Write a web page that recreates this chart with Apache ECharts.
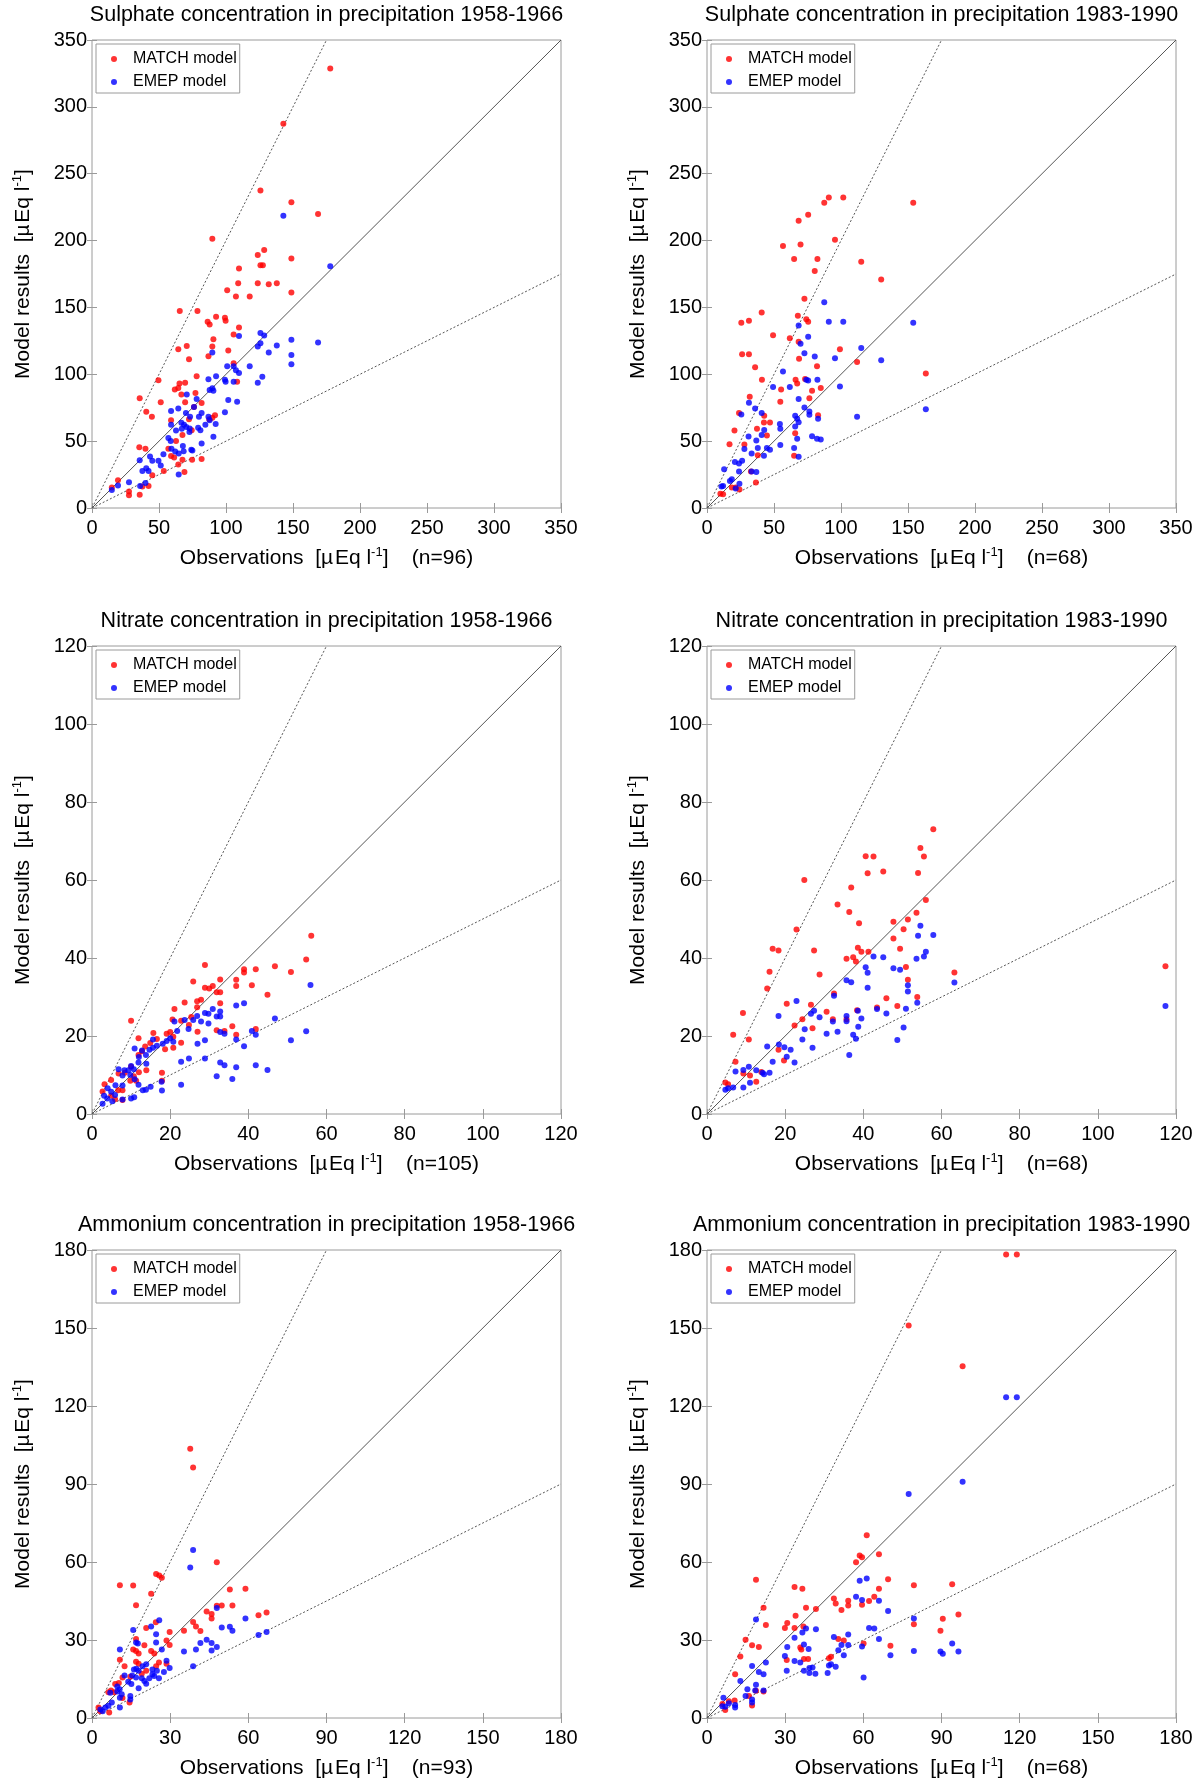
<!DOCTYPE html>
<html>
<head>
<meta charset="utf-8">
<title>Model results vs observations</title>
<script src="https://cdn.jsdelivr.net/npm/echarts@6/dist/echarts.min.js"></script>
<style>
    html, body { margin: 0; padding: 0; background: #fff; }
    #main { width: 1200px; height: 1786px; }
</style>
</head>
<body>
<div id="main"></div>
<script>

// Sulphate 1958-1966
var so4Early_match = [[177.8,328.7],[142.8,287.4],[125.7,237.5],[148.8,228.7],[168.7,219.9],[89.8,201.4],[123.7,189.3],[128.5,192.9],[125.7,181.6],[127.5,181.6],[148.8,186.6],[109.7,179.1],[100.9,162.9],[107.4,158.2],[109.1,168.1],[117.7,158.2],[123.7,168.1],[131.9,167.3],[137.9,168.1],[148.8,161.2],[65.5,147.4],[78.7,147.4],[92.6,143.0],[86.3,139.2],[87.8,137.2],[99.2,142.2],[99.7,140.0],[109.7,135.0],[105.7,129.8],[90.6,126.2],[89.8,120.7],[70.7,121.2],[64.4,118.8],[101.7,117.7],[72.4,111.3],[86.9,113.5],[105.7,108.3],[78.1,98.6],[49.6,95.6],[65.3,93.1],[69.5,93.7],[61.8,88.7],[64.4,89.8],[66.7,84.9],[77.2,86.0],[108.3,94.5],[35.6,82.1],[51.3,79.1],[69.5,79.1],[81.8,78.5],[40.5,71.9],[44.7,68.3],[76.1,75.5],[91.8,69.4],[59.0,65.6],[72.4,66.4],[87.5,66.4],[89.8,67.5],[67.5,54.6],[74.4,58.1],[57.0,44.4],[62.7,50.2],[35.3,45.5],[39.9,44.4],[59.0,38.9],[61.3,37.8],[67.5,36.1],[74.7,36.1],[81.8,36.6],[64.4,32.5],[45.0,24.5],[53.6,27.6],[69.0,27.0],[19.4,20.7],[14.8,15.4],[27.6,12.4],[27.6,9.6],[35.6,9.9],[37.6,16.0],[42.2,16.5]];
var so4Early_emep = [[142.8,218.5],[177.8,180.8],[109.7,128.7],[125.7,130.9],[128.5,129.0],[148.8,125.9],[168.7,123.7],[137.9,121.5],[123.7,120.7],[125.7,123.2],[131.9,116.3],[89.8,116.3],[148.8,114.4],[148.8,107.5],[117.7,106.1],[100.9,106.1],[105.7,106.1],[107.4,103.0],[109.7,100.9],[127.1,98.1],[123.7,93.7],[92.6,98.6],[86.9,96.2],[99.2,95.9],[99.7,94.5],[105.7,94.5],[87.8,88.2],[89.8,89.6],[90.6,87.6],[70.7,84.9],[78.1,81.6],[101.7,80.7],[108.3,79.4],[76.1,75.5],[59.0,72.5],[64.4,74.4],[81.8,71.1],[99.2,71.6],[70.1,71.1],[79.8,68.3],[86.9,68.3],[73.2,68.3],[87.8,65.6],[59.0,62.3],[66.7,63.7],[68.7,62.3],[92.3,62.8],[84.6,62.3],[62.7,57.9],[67.0,59.2],[70.4,60.6],[72.9,59.5],[72.7,56.8],[79.2,60.1],[80.9,58.1],[57.0,52.4],[58.7,50.2],[90.6,53.2],[81.8,48.2],[59.3,44.4],[67.8,46.3],[62.1,42.2],[68.4,42.4],[64.7,40.8],[74.1,43.5],[74.9,43.0],[53.3,40.2],[43.3,38.6],[45.0,35.3],[35.6,35.8],[49.6,35.3],[51.3,31.7],[40.5,29.8],[37.6,27.6],[42.2,27.6],[64.7,25.1],[27.6,19.3],[19.4,16.8],[35.9,16.5],[39.9,18.7],[14.8,13.5]];

// Sulphate 1983-1990
var so4Late_match = [[90.9,232.3],[101.7,232.3],[87.5,228.2],[153.9,228.2],[75.5,219.3],[68.4,214.9],[95.5,200.6],[56.7,195.9],[69.8,197.0],[65.0,186.3],[82.4,186.3],[115.1,184.1],[80.4,177.2],[130.0,170.8],[72.7,156.5],[40.8,146.3],[31.3,140.0],[25.6,138.6],[67.8,143.8],[74.1,141.1],[75.5,139.2],[49.3,129.2],[61.8,127.0],[68.4,124.3],[99.2,118.8],[26.2,114.9],[31.3,114.9],[68.7,111.6],[112.0,109.1],[35.9,105.3],[82.1,106.1],[163.3,100.6],[41.0,95.9],[66.1,95.9],[73.2,96.4],[67.3,93.1],[84.9,89.8],[55.3,88.7],[78.4,87.6],[31.9,83.2],[76.4,82.1],[54.7,79.4],[23.9,71.1],[42.7,68.9],[82.9,69.4],[42.5,63.9],[47.0,63.9],[20.5,57.9],[37.3,59.2],[65.8,55.9],[44.7,54.3],[16.8,47.7],[27.9,47.4],[37.9,39.4],[65.0,39.1],[32.8,27.3],[36.5,19.0],[18.5,15.4],[21.4,15.4],[24.2,13.8],[10.0,10.7],[12.0,10.2]];
var so4Late_emep = [[87.5,153.8],[90.9,139.2],[101.7,139.2],[153.9,138.6],[68.4,136.4],[75.5,128.1],[69.8,122.9],[115.1,119.6],[72.7,115.7],[80.4,113.3],[95.5,111.9],[130.0,110.5],[56.7,102.0],[74.1,95.9],[75.5,95.3],[82.4,95.9],[49.3,90.4],[61.8,90.4],[99.2,90.9],[68.4,81.6],[31.3,78.8],[35.9,74.4],[72.7,75.2],[76.4,72.2],[76.4,69.7],[25.6,70.0],[40.8,71.1],[112.0,68.3],[65.8,68.9],[67.3,66.7],[82.9,66.7],[163.3,73.8],[68.4,64.2],[54.4,62.8],[65.8,60.9],[54.7,59.2],[42.7,58.4],[40.8,54.6],[78.4,53.7],[31.0,53.5],[36.8,50.4],[67.3,51.8],[82.1,51.8],[84.9,51.3],[27.9,44.1],[37.9,44.9],[44.7,44.9],[47.0,43.5],[65.0,44.9],[54.7,47.1],[33.3,40.8],[42.5,39.1],[68.4,38.3],[20.8,34.4],[23.9,33.3],[26.2,35.3],[12.8,28.9],[23.9,27.3],[33.3,27.3],[36.8,27.0],[18.5,21.5],[17.1,20.1],[24.2,18.2],[10.8,16.0],[12.0,16.5],[21.4,14.6]];

// Nitrate 1958-1966
var no3Early_match = [[56.1,45.7],[54.8,39.6],[46.8,37.9],[41.9,37.1],[38.9,37.1],[38.9,36.3],[50.9,36.4],[28.9,38.2],[32.8,34.5],[25.9,34.0],[36.9,34.4],[36.9,32.8],[40.9,33.0],[28.9,32.4],[30.0,32.2],[30.9,32.8],[31.9,31.2],[32.8,31.2],[44.9,30.6],[27.9,29.3],[23.7,28.6],[26.9,28.9],[26.9,27.4],[21.1,26.9],[32.8,28.4],[10.0,23.9],[22.8,23.9],[20.6,24.2],[24.8,22.8],[25.4,24.9],[35.9,22.5],[31.9,21.5],[33.9,21.3],[41.9,21.8],[36.9,20.3],[27.0,21.1],[15.7,20.8],[19.1,20.6],[20.0,21.0],[11.9,19.4],[20.8,19.8],[22.8,18.3],[20.8,17.0],[18.7,16.6],[14.9,18.2],[13.6,17.3],[12.8,16.1],[11.9,15.1],[13.9,11.2],[12.0,10.7],[17.9,10.6],[17.9,8.5],[6.8,10.4],[8.4,10.6],[9.8,8.5],[11.3,8.5],[10.7,9.7],[10.0,12.1],[4.9,8.7],[3.2,7.6],[7.8,6.1],[6.7,6.1],[2.7,5.8],[4.9,4.7],[5.9,3.8],[7.8,3.6],[16.6,19.2]];
var no3Early_emep = [[55.9,33.1],[38.9,28.4],[36.9,27.8],[30.9,26.9],[32.8,26.3],[28.9,25.9],[29.8,25.7],[31.9,25.0],[32.8,25.0],[27.9,23.7],[25.9,24.1],[26.9,25.1],[23.7,24.1],[46.8,24.5],[24.7,21.8],[21.1,23.7],[29.8,23.2],[21.8,21.3],[40.9,21.3],[41.9,20.3],[54.8,21.2],[32.8,21.0],[33.9,20.6],[36.9,19.1],[50.9,18.9],[28.9,18.9],[27.0,18.0],[38.9,17.4],[20.0,19.4],[19.1,18.7],[20.8,18.5],[18.1,18.0],[15.6,19.1],[16.6,17.5],[15.6,17.0],[14.7,16.5],[12.8,16.3],[10.9,16.8],[13.8,15.1],[12.0,14.6],[11.9,13.2],[13.9,12.9],[22.8,13.4],[24.8,14.2],[28.9,14.2],[32.8,13.2],[33.9,12.5],[41.9,12.5],[44.9,11.3],[36.9,12.0],[31.9,9.7],[35.9,9.0],[22.8,7.5],[10.0,12.3],[10.7,11.5],[6.8,11.5],[8.3,11.2],[9.3,11.2],[7.8,9.9],[9.8,10.0],[10.9,8.9],[11.9,7.5],[6.0,7.4],[7.8,7.3],[4.0,6.6],[4.9,5.7],[5.9,4.9],[3.1,4.7],[3.9,4.0],[2.7,2.6],[5.2,3.3],[13.0,6.1],[13.8,6.2],[15.0,7.0],[7.8,3.7],[10.0,4.0],[10.8,4.3],[17.9,6.0],[17.8,8.3]];

// Nitrate 1983-1990
var no3Late_match = [[57.9,73.0],[54.6,68.2],[55.5,66.0],[40.6,66.1],[42.6,66.0],[41.1,61.7],[45.1,62.2],[54.0,61.8],[24.9,60.0],[36.9,58.1],[56.0,54.9],[33.4,53.7],[36.4,51.8],[53.6,51.6],[51.4,49.9],[47.7,49.3],[38.9,48.9],[22.9,47.3],[50.3,47.4],[47.7,45.0],[16.8,42.4],[18.3,41.9],[27.4,41.9],[38.6,42.6],[39.5,41.6],[41.3,41.6],[49.4,42.4],[37.4,40.2],[35.7,39.8],[38.1,39.1],[50.9,37.7],[16.0,36.5],[63.3,36.3],[117.3,37.9],[28.8,35.8],[51.4,34.4],[15.4,32.2],[32.5,30.9],[53.8,30.0],[45.9,29.7],[20.4,28.3],[26.6,28.0],[48.7,27.7],[43.5,27.3],[38.4,26.6],[30.6,26.2],[9.2,25.9],[24.4,24.3],[32.2,24.3],[35.7,24.3],[22.4,22.7],[27.0,22.0],[6.7,20.3],[10.7,19.1],[18.3,16.5],[19.7,13.7],[7.3,13.4],[9.3,10.4],[11.0,9.9],[13.9,10.8],[12.6,8.3],[4.7,8.1],[5.4,7.6]];
var no3Late_emep = [[117.3,27.7],[54.6,48.3],[57.9,45.9],[54.0,45.7],[56.0,41.6],[55.5,40.4],[53.6,39.8],[42.6,40.4],[45.1,40.2],[40.6,37.6],[47.7,37.4],[49.4,37.0],[41.1,36.2],[35.7,34.3],[36.9,33.8],[63.3,33.7],[41.1,32.4],[51.4,33.0],[51.4,31.4],[32.5,30.3],[22.9,29.0],[53.8,28.5],[26.6,25.7],[27.4,26.5],[50.9,27.0],[38.6,26.5],[43.5,26.9],[45.9,25.8],[18.3,25.1],[28.8,24.8],[39.5,24.5],[32.2,23.7],[35.7,23.8],[35.7,25.1],[38.7,22.4],[50.3,22.2],[25.0,21.7],[33.4,21.1],[37.4,20.3],[30.6,20.6],[38.1,19.3],[24.4,19.1],[48.7,19.0],[18.4,17.8],[19.8,17.1],[15.4,17.3],[27.0,17.0],[21.4,16.5],[20.4,14.7],[36.4,15.1],[16.8,13.4],[22.4,13.2],[10.7,12.1],[9.3,11.3],[7.3,10.9],[12.6,11.2],[16.0,10.6],[14.2,10.6],[14.6,10.2],[11.0,8.0],[9.3,6.8],[6.7,6.8],[5.4,6.6],[4.7,6.2]];

// Ammonium 1958-1966
var nh4Early_match = [[37.7,103.6],[38.8,96.3],[47.9,59.9],[24.6,55.4],[25.8,54.8],[26.8,53.9],[10.7,51.1],[15.8,51.0],[58.9,49.7],[52.9,49.4],[22.7,47.8],[16.9,43.4],[47.9,43.2],[49.8,43.3],[53.9,43.3],[44.0,41.0],[45.9,40.0],[67.0,40.6],[63.9,39.5],[45.9,38.3],[38.8,36.9],[39.9,35.2],[41.6,33.5],[24.5,36.8],[20.8,34.6],[29.8,33.1],[35.3,33.6],[28.6,29.8],[16.9,30.4],[29.8,28.1],[20.1,28.0],[15.8,26.3],[16.9,25.8],[17.9,24.8],[22.7,25.8],[23.9,24.8],[10.7,22.4],[16.9,21.6],[17.9,20.9],[28.6,20.9],[25.7,21.3],[12.5,19.9],[24.6,19.9],[20.8,18.2],[19.1,17.0],[14.7,15.9],[11.7,15.6],[8.9,13.1],[10.3,13.5],[7.3,10.6],[6.3,9.9],[8.5,9.9],[11.7,7.7],[14.4,6.0],[2.5,4.0],[6.6,2.1],[3.2,2.6]];
var nh4Early_emep = [[38.8,64.6],[37.7,57.9],[47.9,42.3],[58.9,38.3],[25.8,37.6],[22.7,35.2],[15.8,33.8],[49.8,34.8],[52.9,35.1],[53.9,33.6],[24.6,32.2],[67.0,33.1],[63.9,31.9],[44.0,30.1],[41.6,28.8],[45.9,28.8],[24.6,29.0],[16.9,29.0],[47.9,27.3],[26.8,26.3],[10.7,26.3],[39.9,26.3],[35.3,25.6],[45.9,26.0],[28.6,22.0],[20.8,20.7],[19.4,19.9],[29.8,19.2],[38.8,19.9],[16.1,18.7],[17.0,18.9],[17.9,18.2],[23.2,18.7],[24.9,18.2],[27.6,17.7],[12.5,16.3],[15.4,16.3],[16.9,15.6],[19.1,15.3],[22.0,15.3],[23.2,16.8],[23.9,16.2],[25.7,15.3],[20.1,14.2],[20.8,13.2],[13.9,13.9],[15.1,13.1],[17.9,11.4],[9.7,12.1],[10.6,11.1],[7.0,9.7],[10.7,7.8],[14.7,8.5],[14.7,7.1],[7.6,6.0],[6.3,4.7],[10.7,4.0],[3.2,3.3],[4.1,2.6],[5.1,4.0],[11.4,9.1],[9.7,10.2],[17.6,28.7]];

// Ammonium 1983-1990
var nh4Late_match = [[114.8,178.3],[118.9,178.3],[77.4,151.0],[98.1,135.3],[61.3,70.3],[58.6,62.5],[59.5,61.8],[57.2,59.9],[66.0,63.0],[18.8,53.2],[69.5,53.4],[79.4,51.1],[94.1,51.4],[33.6,50.4],[36.6,49.7],[66.0,49.7],[48.7,46.0],[49.4,44.0],[54.2,45.1],[54.2,43.3],[59.5,43.6],[62.2,45.0],[64.2,46.6],[51.6,41.5],[21.7,42.4],[38.0,42.4],[41.8,41.9],[96.5,39.8],[90.5,38.2],[22.6,35.8],[34.0,39.3],[30.8,36.5],[29.9,34.6],[33.6,34.6],[37.0,35.2],[79.4,36.1],[89.6,33.6],[14.8,30.1],[50.4,30.4],[52.5,29.8],[60.1,28.7],[70.4,27.8],[17.3,28.0],[19.9,27.3],[35.8,27.1],[36.2,26.3],[12.8,23.7],[30.6,22.3],[37.2,22.7],[38.8,22.7],[46.8,23.0],[47.6,23.6],[10.8,16.8],[21.7,10.2],[18.8,10.5],[16.1,8.5],[17.3,4.8],[10.6,6.7],[8.4,6.4],[5.9,5.4],[7.0,3.1]];
var nh4Late_emep = [[114.8,123.4],[118.9,123.4],[98.1,90.9],[77.4,86.2],[61.3,53.7],[58.6,52.8],[57.2,46.6],[59.5,45.4],[66.0,45.1],[69.5,41.2],[79.4,38.3],[18.8,37.9],[38.0,34.4],[62.2,34.6],[64.2,34.4],[41.8,34.1],[36.6,32.9],[54.2,32.1],[33.6,30.9],[48.7,31.2],[66.0,30.4],[94.1,28.7],[51.6,28.1],[30.8,27.3],[59.5,27.5],[54.2,28.1],[37.2,28.3],[39.0,26.5],[50.4,26.1],[79.4,25.8],[89.6,25.6],[90.5,24.7],[96.5,25.6],[70.4,24.1],[52.5,24.1],[29.9,23.8],[33.6,21.9],[35.8,21.3],[22.6,21.3],[46.8,20.2],[47.6,20.7],[49.4,19.7],[17.3,20.0],[39.3,19.2],[40.5,19.4],[37.2,18.2],[39.3,17.3],[41.6,17.0],[46.3,17.3],[19.9,17.7],[21.7,16.8],[30.6,18.2],[12.8,14.2],[60.1,15.6],[18.8,12.8],[15.5,11.1],[18.5,10.6],[21.7,10.6],[14.8,8.5],[17.3,7.1],[17.3,6.0],[6.3,7.8],[8.4,5.7],[10.8,5.0],[10.8,4.0],[5.9,4.5],[7.0,4.3]];

// panel titles, axis ranges, station counts
var panelTitles = [
    'Sulphate concentration in precipitation 1958-1966',
    'Sulphate concentration in precipitation 1983-1990',
    'Nitrate concentration in precipitation 1958-1966',
    'Nitrate concentration in precipitation 1983-1990',
    'Ammonium concentration in precipitation 1958-1966',
    'Ammonium concentration in precipitation 1983-1990'
];
var axisMax = [350, 350, 120, 120, 180, 180];
var axisStep = [50, 50, 20, 20, 30, 30];
var stationCount = [96, 68, 105, 68, 93, 68];
var matchData = [so4Early_match, so4Late_match, no3Early_match, no3Late_match, nh4Early_match, nh4Late_match];
var emepData = [so4Early_emep, so4Late_emep, no3Early_emep, no3Late_emep, nh4Early_emep, nh4Late_emep];
// reference lines model = k * obs
var refSlopes = [2, 1, 0.5];

// ---- layout ----
var FONT = '"Liberation Sans", Arial, Helvetica, sans-serif';
var colLeft = [92, 707];
var rowTop = [40, 646, 1250];
var plotW = 469, plotH = 468;
var boxColor = '#9a9a9a';
var UNIT = '[µ\u200AEq l{sup|-1}]';

var chart = echarts.init(document.getElementById('main'));

var grids = [], xAxes = [], yAxes = [], titles = [], legends = [], series = [];

function labelStyle() {
    return {fontSize: 20, fontFamily: FONT, color: '#000'};
}
function nameStyle() {
    return {
        fontSize: 21, fontFamily: FONT, color: '#000', lineHeight: 25,
        rich: {sup: {fontSize: 13, fontFamily: FONT, color: '#000', verticalAlign: 'top', lineHeight: 13}}
    };
}
// one value axis of panel i; main axes carry labels, the others only ticks (box look)
function makeAxis(i, pos, main) {
    var ax = {
        gridIndex: i, type: 'value', position: pos,
        min: 0, max: axisMax[i], interval: axisStep[i],
        splitLine: {show: false},
        axisLine: {show: false},
        axisTick: {show: true, inside: true, length: 5, lineStyle: {color: boxColor}},
        axisLabel: {show: false}
    };
    if (main) {
        ax.axisLabel = labelStyle();
        ax.axisLabel.margin = pos === 'bottom' ? 10 : 5;
        ax.nameLocation = 'middle';
        ax.nameTextStyle = nameStyle();
        if (pos === 'bottom') {
            ax.name = 'Observations  ' + UNIT + '    (n=' + stationCount[i] + ')';
            ax.nameGap = 38;
        } else {
            ax.name = 'Model results  ' + UNIT;
            ax.nameGap = 56;
        }
    }
    return ax;
}

for (var i = 0; i < 6; i++) {
    var gLeft = colLeft[i % 2];
    var gTop = rowTop[Math.floor(i / 2)];
    var aMax = axisMax[i];

    grids.push({
        left: gLeft, top: gTop, width: plotW, height: plotH,
        show: true, borderColor: boxColor, borderWidth: 1, backgroundColor: '#fff'
    });

    titles.push({
        text: panelTitles[i],
        left: gLeft + plotW / 2,
        top: gTop - 36,
        textAlign: 'center',
        padding: 0,
        textStyle: {fontSize: 21.5, fontWeight: 'normal', fontFamily: FONT, color: '#000'}
    });

    legends.push({
        data: ['MATCH model', 'EMEP model'],
        orient: 'vertical',
        left: gLeft + 4,
        top: gTop + 4,
        icon: 'circle',
        itemWidth: 28,
        itemHeight: 6,
        itemGap: 7,
        padding: [7, 3, 3, 15],
        borderColor: boxColor,
        borderWidth: 1,
        backgroundColor: '#fff',
        selectedMode: false,
        textStyle: {fontSize: 16, fontFamily: FONT, color: '#000'}
    });

    xAxes.push(makeAxis(i, 'bottom', true));
    xAxes.push(makeAxis(i, 'top', false));
    yAxes.push(makeAxis(i, 'left', true));
    yAxes.push(makeAxis(i, 'right', false));

    // 1:2, 1:1, 2:1 lines
    for (var s = 0; s < refSlopes.length; s++) {
        var k = refSlopes[s];
        var end = k >= 1 ? [aMax / k, aMax] : [aMax, aMax * k];
        series.push({
            type: 'line',
            xAxisIndex: 2 * i, yAxisIndex: 2 * i,
            data: [[0, 0], end],
            showSymbol: false, silent: true,
            lineStyle: {color: '#555', width: 1, type: k === 1 ? 'solid' : [2, 2]},
            z: 1
        });
    }

    series.push({
        name: 'MATCH model', type: 'scatter',
        xAxisIndex: 2 * i, yAxisIndex: 2 * i,
        data: matchData[i], symbolSize: 6,
        itemStyle: {color: '#ff0000'},
        z: 2
    });
    series.push({
        name: 'EMEP model', type: 'scatter',
        xAxisIndex: 2 * i, yAxisIndex: 2 * i,
        data: emepData[i], symbolSize: 6,
        itemStyle: {color: '#0000ff'},
        z: 3
    });
}

chart.setOption({
    animation: false,
    backgroundColor: '#fff',
    title: titles,
    legend: legends,
    grid: grids,
    xAxis: xAxes,
    yAxis: yAxes,
    series: series
});
</script>
</body>
</html>
